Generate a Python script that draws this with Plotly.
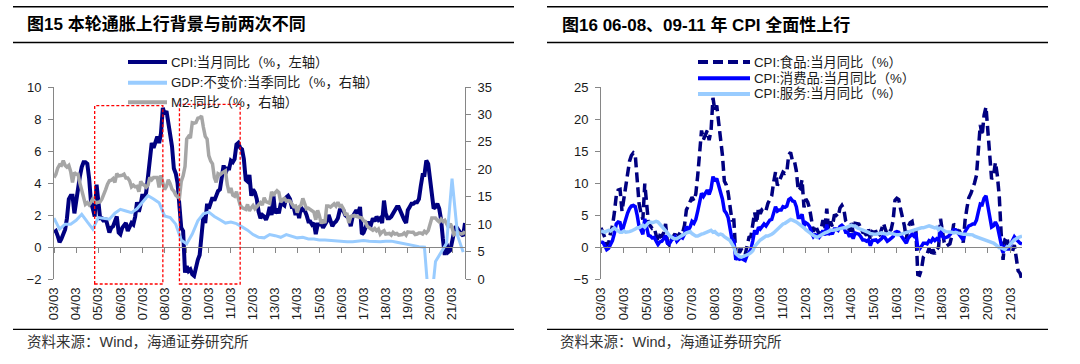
import plotly.graph_objects as go
import pandas as pd

W, H = 1080, 364

# ---------------- data ----------------
# CPI yoy, monthly 2003-03 .. 2021-10 (left axis)
cpi = [
    0.9, 1.0, 0.7, 0.3, 0.5, 0.9, 1.1, 1.8, 3.0, 3.2,
    3.2, 2.1, 3.0, 3.8, 4.4, 5.0, 5.3, 5.3, 5.2, 4.3, 2.8, 2.4,
    1.9, 3.9, 2.7, 1.8, 1.8, 1.6, 1.8, 1.3, 0.9, 1.2, 1.3, 1.6,
    1.9, 0.9, 0.8, 1.2, 1.4, 1.5, 1.0, 1.3, 1.5, 1.4, 1.9, 2.8,
    2.2, 2.7, 3.3, 3.0, 3.4, 4.4, 5.6, 6.5, 6.2, 6.5, 6.9, 6.5,
    7.1, 8.7, 8.3, 8.5, 7.7, 7.1, 6.3, 4.9, 4.6, 4.0, 2.4, 1.2,
    1.0, -1.6, -1.2, -1.5, -1.4, -1.7, -1.8, -1.2, -0.8, -0.5, 0.6, 1.9,
    1.5, 2.7, 2.4, 2.8, 3.1, 2.9, 3.3, 3.5, 3.6, 4.4, 5.1, 4.6,
    4.9, 4.9, 5.4, 5.3, 5.5, 6.4, 6.5, 6.2, 6.1, 5.5, 4.2, 4.1,
    4.5, 3.2, 3.6, 3.4, 3.0, 2.2, 1.8, 2.0, 1.9, 1.7, 2.0, 2.5,
    2.0, 3.2, 2.1, 2.4, 2.1, 2.7, 2.7, 2.6, 3.1, 3.2, 3.0, 2.5,
    2.5, 2.0, 2.4, 1.8, 2.5, 2.3, 2.3, 2.0, 1.6, 1.6, 1.4, 1.5,
    0.8, 1.4, 1.4, 1.5, 1.2, 1.4, 1.6, 2.0, 1.6, 1.3, 1.5, 1.6,
    1.8, 2.3, 2.3, 2.3, 2.0, 1.9, 1.8, 1.3, 1.9, 2.1, 2.3, 2.1,
    2.5, 0.8, 0.9, 1.2, 1.5, 1.5, 1.4, 1.8, 1.6, 1.9, 1.7, 1.8,
    1.5, 2.9, 2.1, 1.8, 1.8, 1.9, 2.1, 2.3, 2.5, 2.5, 2.2, 1.9,
    1.7, 1.5, 2.3, 2.5, 2.7, 2.7, 2.8, 2.8, 3.0, 3.8, 4.5, 4.5,
    5.4, 5.2, 4.3, 3.3, 2.4, 2.5, 2.7, 2.4, 1.7, 0.5, -0.5, 0.2,
    -0.3, -0.2, 0.4, 0.9, 1.3, 1.1, 1.0, 0.8, 0.7, 1.5,
]

# M2 yoy, monthly 2003-03 .. 2021-10 (right axis)
m2 = [
    18.5, 19.1, 20.2, 20.8, 20.7, 21.6, 20.7, 20.4, 20.7, 19.6,
    17.6, 19.4, 19.1, 19.1, 17.5, 16.2, 15.3, 13.6, 13.9, 13.5, 14.0, 14.6,
    14.1, 13.9, 14.0, 14.1, 14.6, 15.7, 16.3, 17.3, 17.9, 18.0, 18.3, 17.6,
    19.2, 18.8, 18.8, 18.9, 19.1, 18.4, 18.4, 17.9, 16.8, 17.1, 16.8, 16.9,
    15.9, 17.8, 17.3, 17.1, 16.7, 17.1, 18.5, 18.1, 18.5, 18.5, 18.5, 16.7,
    18.9, 17.5, 16.3, 16.9, 18.1, 17.4, 16.4, 16.0, 15.3, 15.0, 14.8, 17.8,
    18.8, 20.5, 25.5, 26.0, 25.7, 28.5, 28.4, 28.5, 29.3, 29.4, 29.7, 27.7,
    26.0, 25.5, 22.5, 21.5, 21.0, 18.5, 17.6, 19.2, 19.0, 19.3, 19.5, 19.7,
    17.2, 15.7, 16.6, 15.3, 15.1, 15.9, 14.7, 13.5, 13.0, 12.9, 12.7, 13.6,
    12.4, 13.0, 13.4, 12.8, 13.2, 13.6, 13.9, 13.5, 14.8, 14.1, 13.9, 13.8,
    15.9, 15.2, 15.7, 16.1, 15.8, 14.0, 14.5, 14.7, 14.2, 14.3, 14.2, 13.6,
    13.2, 13.3, 12.1, 13.2, 13.4, 14.7, 13.5, 12.8, 12.9, 12.6, 12.3, 12.2,
    10.8, 12.5, 11.6, 10.1, 10.8, 10.2, 13.3, 13.3, 13.1, 13.5, 13.7, 13.3,
    14.0, 13.3, 13.4, 12.8, 11.8, 11.8, 10.2, 11.4, 11.5, 11.6, 11.4, 11.3,
    11.3, 11.1, 10.6, 10.5, 9.6, 9.4, 9.2, 8.9, 9.2, 8.8, 9.1, 8.2,
    8.6, 8.8, 8.2, 8.3, 8.3, 8.0, 8.5, 8.2, 8.3, 8.0, 8.0, 8.1,
    8.4, 8.0, 8.6, 8.5, 8.5, 8.5, 8.1, 8.2, 8.4, 8.4, 8.2, 8.7,
    8.4, 8.8, 10.1, 11.1, 11.1, 11.1, 10.7, 10.4, 10.9, 10.5, 10.7, 10.1,
    9.4, 10.1, 9.4, 8.1, 8.3, 8.6, 8.3, 8.2, 8.3, 8.7,
]

# real GDP yoy, quarterly 2003Q1 .. 2021Q3 (right axis)
gdp = [
    11.1, 9.1, 10.0, 10.0,
    10.7, 11.8, 10.4, 9.1,
    11.2, 11.0, 10.9, 12.0,
    12.7, 12.4, 12.1, 12.8,
    13.9, 15.2, 14.6, 13.9,
    11.5, 11.2, 10.0, 7.1,
    6.4, 8.2, 10.6, 11.9,
    12.2, 11.4, 10.8, 10.2,
    10.4, 10.1, 9.5, 8.9,
    8.1, 7.6, 7.5, 8.1,
    7.9, 7.6, 8.1, 7.8,
    7.5, 7.6, 7.3, 7.3,
    7.1, 7.1, 7.0, 6.9,
    6.9, 6.8, 6.8, 6.9,
    7.0, 6.9, 6.8, 6.8,
    6.9, 6.9, 6.7, 6.5,
    6.3, 6.0, 5.9, 5.8,
    -6.8, 3.2, 4.9, 6.5,
    18.3, 7.9, 4.9,
]

# CPI food / consumer goods / services yoy, monthly 2003-03 .. 2021-09
food = [
    3.0, 2.3, 1.5, 0.2, 0.6, 2.2, 3.3, 5.3, 8.0, 8.9,
    9.0, 5.6, 7.4, 9.8, 11.7, 13.4, 14.3, 14.7, 14.4, 11.1, 6.8, 5.4,
    4.3, 9.9, 6.2, 3.7, 3.3, 2.9, 3.0, 1.8, 0.8, 1.8, 1.7, 2.2,
    3.6, 0.6, 0.3, 1.1, 1.6, 2.1, 0.9, 1.9, 2.4, 2.2, 3.4, 5.8,
    6.4, 7.0, 7.8, 7.2, 8.3, 11.2, 15.4, 18.2, 16.8, 17.6, 18.2, 16.7,
    18.2, 23.3, 21.4, 22.1, 19.9, 17.3, 14.4, 10.3, 9.7, 8.5, 5.9, 4.2,
    4.2, -1.2, -0.1, -0.9, -0.3, -1.1, -1.2, 0.5, 1.5, 1.6, 3.2, 5.4,
    3.7, 6.2, 5.2, 5.9, 6.1, 5.7, 6.8, 7.5, 8.0, 10.1, 11.7, 9.6,
    10.3, 11.0, 11.7, 11.5, 11.7, 14.4, 14.8, 13.4, 13.4, 11.9, 8.8, 9.1,
    10.5, 6.2, 7.5, 7.0, 6.0, 4.2, 2.4, 3.4, 2.5, 2.0, 2.8, 4.2,
    2.9, 6.0, 2.7, 4.0, 3.2, 4.9, 5.0, 4.7, 6.1, 6.5, 5.9, 4.1,
    3.7, 2.4, 3.8, 2.3, 3.7, 3.7, 3.6, 3.0, 2.3, 2.2, 1.8, 2.9,
    1.1, 2.4, 2.3, 2.4, 1.6, 1.9, 2.7, 3.7, 2.7, 1.9, 2.4, 2.7,
    4.1, 7.3, 7.6, 7.4, 5.9, 4.6, 3.3, 1.3, 3.2, 3.8, 4.0, 2.4,
    2.7, -4.3, -4.4, -3.5, -1.6, -1.2, -1.1, -0.2, -1.4, -0.4, -1.1, -0.4,
    0.0, 4.4, 2.1, 0.7, 0.1, 0.3, 0.5, 1.7, 3.6, 3.3, 2.5, 2.5,
    1.9, 0.7, 4.1, 6.1, 7.7, 8.3, 9.1, 10.0, 11.2, 15.5, 19.1, 17.4,
    20.6, 21.9, 18.3, 14.8, 10.6, 11.1, 13.2, 11.2, 7.9, 2.2, -2.0, 1.2,
    1.6, -0.2, -0.7, -0.7, 0.3, -1.7, -3.7, -4.1, -5.2,
]

goods = [
    0.8, 0.7, 0.2, -0.4, -0.2, 0.5, 1.0, 2.1, 3.6, 3.9,
    3.8, 2.4, 3.4, 4.5, 5.3, 6.0, 6.4, 6.5, 6.3, 5.0, 3.2, 2.7,
    2.0, 4.4, 3.0, 1.8, 1.7, 1.4, 1.5, 0.9, 0.4, 0.8, 0.9, 1.3,
    1.8, 0.6, 0.5, 1.0, 1.4, 1.6, 0.9, 1.3, 1.6, 1.4, 2.0, 3.2,
    2.6, 3.2, 4.0, 3.7, 4.3, 5.6, 7.3, 8.4, 7.9, 8.4, 8.9, 8.2,
    9.1, 11.0, 10.3, 10.7, 9.7, 8.6, 7.5, 5.7, 5.3, 4.6, 2.6, 1.2,
    1.0, -2.0, -1.6, -1.9, -1.8, -2.0, -2.1, -1.3, -0.8, -0.4, 1.0, 2.6,
    2.0, 3.1, 2.8, 3.3, 3.6, 3.3, 3.8, 4.2, 4.3, 5.5, 6.3, 5.6,
    5.8, 5.8, 6.3, 6.2, 6.4, 7.4, 7.6, 7.2, 7.1, 6.3, 4.6, 4.6,
    5.1, 3.3, 3.8, 3.6, 3.2, 2.2, 1.6, 1.9, 1.8, 1.5, 1.9, 2.6,
    1.8, 3.5, 1.9, 2.4, 2.0, 2.8, 2.8, 2.6, 3.2, 3.4, 3.1, 2.3,
    2.3, 1.6, 2.1, 1.3, 2.2, 2.1, 2.0, 1.6, 1.1, 1.1, 0.9, 1.1,
    0.2, 1.0, 1.0, 1.1, 0.8, 1.0, 1.3, 1.8, 1.2, 0.9, 1.1, 1.3,
    1.6, 2.3, 2.4, 2.3, 1.9, 1.5, 1.2, 0.6, 1.4, 1.7, 2.0, 1.7,
    2.2, -0.2, -0.3, 0.1, 0.6, 0.6, 0.5, 1.0, 0.8, 1.3, 1.0, 1.3,
    1.1, 2.7, 1.7, 1.4, 1.5, 1.6, 1.9, 2.3, 2.7, 2.7, 2.3, 1.8,
    1.3, 1.1, 2.4, 2.9, 3.3, 3.4, 3.6, 3.6, 4.2, 5.5, 6.7, 6.6,
    7.6, 8.0, 6.4, 4.6, 3.1, 3.3, 3.9, 3.3, 2.1, 0.5, -0.9, 0.0,
    -0.3, -0.3, 0.4, 1.0, 1.6, 1.2, 0.9, 0.6, 0.5,
]

services = [
    2.5, 2.4, 2.3, 2.5, 2.6, 2.5, 2.8, 3.0, 2.7, 2.5,
    2.3, 2.3, 2.5, 2.3, 2.3, 2.4, 2.5, 2.6, 2.8, 3.0, 3.0, 3.2,
    3.4, 3.1, 3.5, 3.8, 3.9, 3.8, 3.9, 4.0, 3.9, 3.6, 3.3, 2.9,
    2.6, 2.2, 1.8, 1.5, 1.4, 1.3, 1.3, 1.5, 1.7, 1.9, 2.1, 2.2,
    2.3, 2.4, 2.1, 1.8, 1.7, 1.7, 1.9, 2.0, 2.1, 2.2, 2.4, 2.5,
    2.6, 2.3, 2.4, 2.1, 1.9, 2.0, 1.9, 1.6, 1.4, 1.2, 1.0, 0.5,
    0.0, -1.0, -1.3, -1.5, -1.6, -1.5, -1.4, -1.3, -1.1, -0.9, -0.6, 0.1,
    0.5, 0.9, 1.1, 1.3, 1.5, 1.7, 1.7, 1.8, 2.0, 2.2, 2.5, 2.8,
    3.1, 3.4, 3.6, 3.7, 3.9, 4.1, 4.3, 4.2, 4.1, 3.9, 3.7, 3.5,
    3.2, 3.0, 2.7, 2.4, 2.2, 2.0, 1.8, 1.6, 1.5, 1.7, 1.9, 2.1,
    2.2, 2.3, 2.5, 2.6, 2.6, 2.6, 2.7, 2.8, 2.9, 3.0, 3.0, 3.0,
    3.1, 3.2, 3.4, 3.3, 3.3, 3.0, 2.9, 2.7, 2.6, 2.5, 2.4, 2.3,
    2.1, 2.0, 2.0, 2.0, 2.1, 2.1, 2.2, 2.1, 2.0, 2.0, 2.2, 2.1,
    2.1, 2.0, 1.9, 1.9, 2.0, 2.1, 2.2, 2.3, 2.4, 2.5, 2.6, 2.6,
    2.8, 2.8, 2.9, 3.0, 3.0, 3.1, 3.2, 3.3, 3.2, 3.1, 3.0, 3.1,
    2.7, 3.0, 2.7, 2.5, 2.4, 2.4, 2.3, 2.3, 2.2, 2.3, 2.2, 2.1,
    2.1, 2.0, 2.0, 2.0, 1.9, 1.9, 1.9, 1.7, 1.6, 1.5, 1.4, 1.2,
    1.2, 1.1, 1.0, 0.9, 0.8, 0.6, 0.4, 0.1, -0.1, -0.1, -0.2, -0.4,
    0.0, 0.1, 0.5, 0.9, 1.1, 1.3, 1.5, 1.6, 1.7,
]

tick_years = list(range(2003, 2022))
tick_labels = [f"{y % 100:02d}/03" for y in tick_years]

left_names = ["CPI:当月同比（%，左轴）", "GDP:不变价:当季同比（%，右轴）", "M2:同比（%，右轴）"]
right_names = ["CPI:食品:当月同比（%）", "CPI:消费品:当月同比（%）", "CPI:服务:当月同比（%）"]
titles = ["图15 本轮通胀上行背景与前两次不同", "图16 06-08、09-11 年 CPI 全面性上行"]
source = "资料来源：Wind，海通证券研究所"
boxes = [("2005-01-01", "2008-02-01"), ("2008-11-01", "2011-08-01")]

assert len(cpi) == 224 and len(m2) == 224
assert len(food) == 223 and len(goods) == 223 and len(services) == 223

months_l = pd.date_range("2003-03-01", periods=len(cpi), freq="MS")
quarters = pd.date_range("2003-03-01", periods=len(gdp), freq="3MS")
months_r = pd.date_range("2003-03-01", periods=len(food), freq="MS")
tickvals = [f"{y}-03-01" for y in tick_years]

# ---------------- layout helpers ----------------
def fx(px):
    return px / W


def fy(py):
    return 1 - py / H


TOP, BOT = 87, 279
L0, L1 = 54, 465
R0, R1 = 601, 1022
ydom = [fy(BOT), fy(TOP)]
span = ydom[1] - ydom[0]
zero_l = ydom[0] + span * 2 / 12
zero_r = ydom[0] + span * 5 / 30

NAVY = "#000080"
BLUE = "#0000FF"
LBLUE = "#99CCFF"
GRAY = "#A6A6A6"
AX = "#868686"
TXT = "#1a1a1a"
FONT = "Liberation Sans, Noto Sans CJK SC"

fig = go.Figure()

fig.add_trace(go.Scatter(x=months_l, y=cpi, xaxis="x", yaxis="y", mode="lines",
                         line=dict(color=NAVY, width=4), name=left_names[0]))
fig.add_trace(go.Scatter(x=months_l, y=m2, xaxis="x", yaxis="y2", mode="lines",
                         line=dict(color=GRAY, width=3.5), name=left_names[2]))
fig.add_trace(go.Scatter(x=quarters, y=gdp, xaxis="x", yaxis="y2", mode="lines",
                         line=dict(color=LBLUE, width=3), name=left_names[1]))

fig.add_trace(go.Scatter(x=months_r, y=food, xaxis="x2", yaxis="y3", mode="lines",
                         line=dict(color=NAVY, width=3.5, dash="10px,5px"), name=right_names[0]))
fig.add_trace(go.Scatter(x=months_r, y=goods, xaxis="x2", yaxis="y3", mode="lines",
                         line=dict(color=BLUE, width=3.5), name=right_names[1]))
fig.add_trace(go.Scatter(x=months_r, y=services, xaxis="x2", yaxis="y3", mode="lines",
                         line=dict(color=LBLUE, width=3.5), name=right_names[2]))

# invisible carriers for the zero-line axes
fig.add_trace(go.Scatter(x=[months_l[0]], y=[None], xaxis="x3", yaxis="y", mode="lines",
                         showlegend=False, hoverinfo="skip"))
fig.add_trace(go.Scatter(x=[months_r[0]], y=[None], xaxis="x4", yaxis="y3", mode="lines",
                         showlegend=False, hoverinfo="skip"))

rng_l = [months_l[0], months_l[-1]]
rng_r = [months_r[0], months_r[-1]]

xlab = dict(showline=False, ticks="", showgrid=False, zeroline=False, tickangle=-90,
            tickmode="array", tickvals=tickvals, ticktext=tick_labels, ticklabelstandoff=5,
            tickfont=dict(family=FONT, size=13, color=TXT), automargin=False)
xzero = dict(showline=True, linecolor=AX, linewidth=1, ticks="outside", ticklen=5,
             tickcolor=AX, tickwidth=1, showticklabels=False, showgrid=False,
             zeroline=False, tickmode="array", tickvals=tickvals, anchor="free",
             automargin=False)
yax = dict(showline=True, linecolor=AX, linewidth=1, ticks="outside", ticklen=5,
           tickcolor=AX, showgrid=False, zeroline=False,
           tickfont=dict(family=FONT, size=13, color=TXT), automargin=False,
           ticklabelstandoff=4)

fig.update_layout(
    width=W, height=H, margin=dict(l=0, r=0, t=0, b=0), template="none",
    paper_bgcolor="white", plot_bgcolor="rgba(0,0,0,0)", showlegend=False,
    font=dict(family=FONT, color=TXT),
    xaxis=dict(domain=[fx(L0), fx(L1)], range=rng_l, anchor="y", **xlab),
    xaxis2=dict(domain=[fx(R0), fx(R1)], range=rng_r, anchor="y3", **xlab),
    xaxis3=dict(domain=[fx(L0), fx(L1)], range=rng_l, overlaying="x", position=zero_l, **xzero),
    xaxis4=dict(domain=[fx(R0), fx(R1)], range=rng_r, overlaying="x2", position=zero_r, **xzero),
    yaxis=dict(domain=ydom, range=[-2, 10], dtick=2, anchor="x", **yax),
    yaxis2=dict(domain=ydom, range=[0, 35], dtick=5, anchor="x", overlaying="y", side="right", **yax),
    yaxis3=dict(domain=ydom, range=[-5, 25], dtick=5, anchor="x2", **yax),
)

shapes = []
annotations = []

# title bars, bottom rules
for (a, b), title, tx, sx in [((13, 514), titles[0], 25, 25), ((547, 1048), titles[1], 560, 558)]:
    for yy in (6.7, 42.5):
        shapes.append(dict(type="line", xref="paper", yref="paper", x0=fx(a), x1=fx(b),
                           y0=fy(yy), y1=fy(yy), line=dict(color="black", width=1.5)))
    shapes.append(dict(type="line", xref="paper", yref="paper", x0=fx(a), x1=fx(b),
                       y0=fy(329.3), y1=fy(329.3), line=dict(color="black", width=1.2)))
    annotations.append(dict(text=f"<b>{title}</b>", xref="paper", yref="paper", x=fx(tx), y=fy(25),
                            xanchor="left", yanchor="middle", showarrow=False,
                            font=dict(family=FONT, size=17, color="black")))
    annotations.append(dict(text=source, xref="paper", yref="paper", x=fx(sx), y=fy(341.7),
                            xanchor="left", yanchor="middle", showarrow=False,
                            font=dict(family=FONT, size=14.5, color="#333333")))

# red dashed boxes
for (x0, x1), top in zip(boxes, (105.7, 104.3)):
    shapes.append(dict(type="rect", xref="x", yref="paper", x0=x0, x1=x1,
                       y0=fy(284), y1=fy(top), line=dict(color="#FF0000", width=1.3, dash="3px,2px"),
                       fillcolor="rgba(0,0,0,0)", layer="above"))

# custom legends
leg_l = [(left_names[0], NAVY, "solid", 62), (left_names[1], LBLUE, "solid", 82.7),
         (left_names[2], GRAY, "solid", 102.3)]
for name, col, dash, yy in leg_l:
    shapes.append(dict(type="line", xref="paper", yref="paper", x0=fx(128), x1=fx(167),
                       y0=fy(yy), y1=fy(yy), line=dict(color=col, width=4, dash=dash)))
    annotations.append(dict(text=name, xref="paper", yref="paper", x=fx(169), y=fy(yy),
                            xanchor="left", yanchor="middle", showarrow=False,
                            font=dict(family=FONT, size=13.3, color=TXT)))
leg_r = [(right_names[0], NAVY, "10px,5px", 62), (right_names[1], BLUE, "solid", 78.3),
         (right_names[2], LBLUE, "solid", 94)]
for name, col, dash, yy in leg_r:
    shapes.append(dict(type="line", xref="paper", yref="paper", x0=fx(698), x1=fx(750),
                       y0=fy(yy), y1=fy(yy), line=dict(color=col, width=4, dash=dash)))
    annotations.append(dict(text=name, xref="paper", yref="paper", x=fx(752), y=fy(yy),
                            xanchor="left", yanchor="middle", showarrow=False,
                            font=dict(family=FONT, size=13.3, color=TXT)))

fig.update_layout(shapes=shapes, annotations=annotations)
fig.write_html(
    "out.html",
    config={"displayModeBar": False},
    post_script="document.body.style.margin='0px';document.documentElement.style.overflow='hidden';",
)
